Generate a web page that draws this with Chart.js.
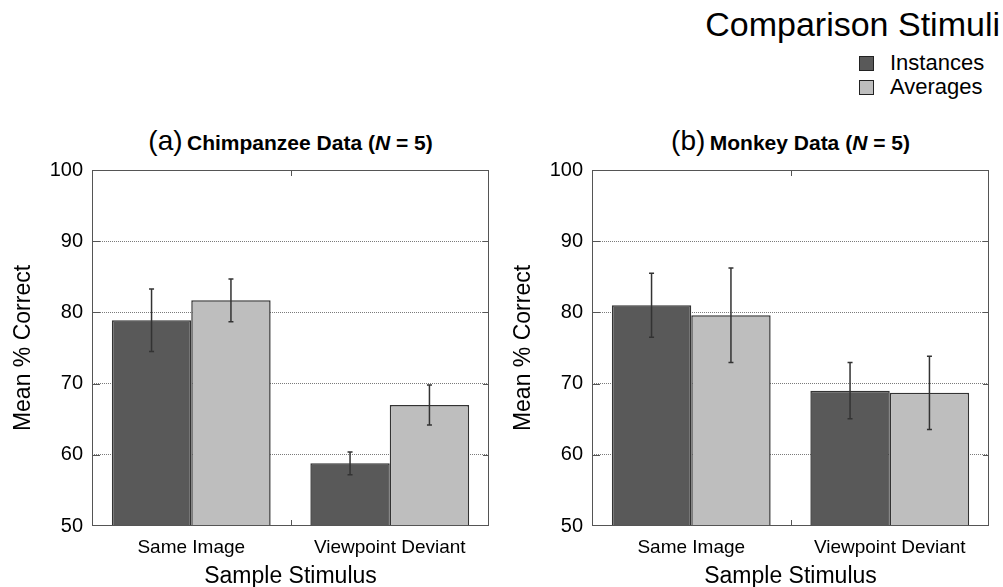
<!DOCTYPE html>
<html>
<head>
<meta charset="utf-8">
<script src="https://cdn.jsdelivr.net/npm/chart.js@4.4.0/dist/chart.umd.min.js"></script>
<style>
  body { margin: 0; background: #fff; font-family: "Liberation Sans", Arial, sans-serif; }
  #page { position: relative; width: 1003px; height: 587px; overflow: hidden; }
  canvas { position: absolute; top: 140px; }
  .title { position: absolute; top: 126px; width: 397px; text-align: center; white-space: nowrap; color: #000; line-height: 30px; }
  .title .tag { font-size: 28px; }
  .title .name { font-size: 21px; font-weight: bold; }
  #legend { position: absolute; right: 3px; top: 2px; text-align: right; }
  #legend .head { font-size: 34px; line-height: 44px; }
  .item { position: absolute; left: 859px; font-size: 22px; line-height: 22px; }
  .item span.sw { display: inline-block; width: 13px; height: 13px; border: 1px solid #222; vertical-align: -1px; margin-right: 16px; }
</style>
</head>
<body>
<div id="page">
  <div id="legend"><div class="head">Comparison Stimuli</div></div>
  <div class="item" style="top:52px"><span class="sw" style="background:#595959"></span>Instances</div>
  <div class="item" style="top:76px"><span class="sw" style="background:#bebebe"></span>Averages</div>

  <div class="title" style="left:92px"><span class="tag">(a)</span> <span class="name">Chimpanzee Data (<i>N</i> = 5)</span></div>
  <div class="title" style="left:592px"><span class="tag">(b)</span> <span class="name">Monkey Data (<i>N</i> = 5)</span></div>

  <canvas id="chartA" width="500" height="447" style="left:0"></canvas>
  <canvas id="chartB" width="500" height="447" style="left:500px"></canvas>
</div>
<script>
// values
const categories = ['Same Image', 'Viewpoint Deviant'];
const seriesNames = ['Instances', 'Averages'];
const yTicks = [50, 60, 70, 80, 90, 100];

const chimpInstances = [78.9, 58.8];
const chimpInstancesErr = [4.4, 1.6];
const chimpAverages = [81.7, 67.0];
const chimpAveragesErr = [3.0, 2.8];

const monkeyInstances = [81.0, 69.0];
const monkeyInstancesErr = [4.5, 3.95];
const monkeyAverages = [79.6, 68.7];
const monkeyAveragesErr = [6.65, 5.15];

const darkFill = '#595959';
const lightFill = '#bebebe';
const edge = '#333';
const font = '"Liberation Sans", Arial, sans-serif';

// error bars, drawn from each bar's value and the dataset's errors
const errorBars = {
  id: 'errorBars',
  afterDatasetsDraw(chart) {
    const ctx = chart.ctx;
    const y = chart.scales.y;
    ctx.save();
    ctx.strokeStyle = '#333';
    ctx.lineWidth = 1.5;
    chart.data.datasets.forEach((ds, i) => {
      const meta = chart.getDatasetMeta(i);
      meta.data.forEach((bar, j) => {
        const v = ds.data[j];
        const e = ds.errors[j];
        const top = y.getPixelForValue(v + e);
        const bottom = y.getPixelForValue(v - e);
        ctx.beginPath();
        ctx.moveTo(bar.x, top);
        ctx.lineTo(bar.x, bottom);
        ctx.moveTo(bar.x - 2.5, top);
        ctx.lineTo(bar.x + 2.5, top);
        ctx.moveTo(bar.x - 2.5, bottom);
        ctx.lineTo(bar.x + 2.5, bottom);
        ctx.stroke();
      });
    });
    ctx.restore();
  }
};

// plot frame with inward tick marks
const frame = {
  id: 'frame',
  afterDatasetsDraw(chart) {
    const ctx = chart.ctx;
    const a = chart.chartArea;
    const y = chart.scales.y;
    const x = chart.scales.x;
    ctx.save();
    ctx.strokeStyle = '#555';
    ctx.lineWidth = 1;
    ctx.strokeRect(a.left + 0.5, a.top + 0.5, a.right - a.left - 1, a.bottom - a.top - 1);
    ctx.beginPath();
    yTicks.slice(1, -1).forEach(t => {
      const py = Math.round(y.getPixelForValue(t)) + 0.5;
      ctx.moveTo(a.left, py);
      ctx.lineTo(a.left + 8, py);
      ctx.moveTo(a.right, py);
      ctx.lineTo(a.right - 6, py);
    });
    const mid = Math.round((x.getPixelForValue(0) + x.getPixelForValue(1)) / 2) + 0.5;
    ctx.moveTo(mid, a.top);
    ctx.lineTo(mid, a.top + 6);
    ctx.moveTo(mid, a.bottom);
    ctx.lineTo(mid, a.bottom - 6);
    ctx.stroke();
    ctx.restore();
  }
};

function makeChart(id, inst, instErr, avg, avgErr) {
  return new Chart(document.getElementById(id), {
    type: 'bar',
    data: {
      labels: categories,
      datasets: [
        {
          label: seriesNames[0],
          data: inst,
          errors: instErr,
          backgroundColor: darkFill,
          borderColor: edge,
          borderWidth: 1.5,
          categoryPercentage: 0.8,
          barPercentage: 1.0,
        },
        {
          label: seriesNames[1],
          data: avg,
          errors: avgErr,
          backgroundColor: lightFill,
          borderColor: edge,
          borderWidth: 1.5,
          categoryPercentage: 0.8,
          barPercentage: 1.0,
        },
      ],
    },
    options: {
      responsive: false,
      animation: false,
      layout: { padding: { left: 0, right: 11, top: 30, bottom: 0 } },
      plugins: {
        legend: { display: false },
        tooltip: { enabled: false },
      },
      scales: {
        x: {
          grid: { display: false },
          border: { display: false },
          ticks: { color: '#000', font: { family: font, size: 19 }, padding: 2 },
          title: {
            display: true,
            text: 'Sample Stimulus',
            color: '#000',
            font: { family: font, size: 23, lineHeight: 0.9 },
            padding: { top: 0, bottom: 0 },
          },
          afterFit: scale => { scale.height = 61; },
        },
        y: {
          min: 50,
          max: 100,
          afterBuildTicks: scale => { scale.ticks = yTicks.map(v => ({ value: v })); },
          grid: {
            drawTicks: false,
            tickLength: 0,
            color: ctx => (ctx.tick && (ctx.tick.value === 50 || ctx.tick.value === 100)) ? 'rgba(0,0,0,0)' : '#7a7a7a',
            lineWidth: 1,
          },
          border: { display: false, dash: [1, 1] },
          ticks: { color: '#000', font: { family: font, size: 20 }, padding: 9 },
          title: {
            display: true,
            text: 'Mean % Correct',
            color: '#000',
            font: { family: font, size: 23, lineHeight: 1.2 },
            padding: { top: 10, bottom: 0 },
          },
          afterFit: scale => { scale.width = 92; },
        },
      },
    },
    plugins: [errorBars, frame],
  });
}

const chartA = makeChart('chartA', chimpInstances, chimpInstancesErr, chimpAverages, chimpAveragesErr);
const chartB = makeChart('chartB', monkeyInstances, monkeyInstancesErr, monkeyAverages, monkeyAveragesErr);
</script>
</body>
</html>
